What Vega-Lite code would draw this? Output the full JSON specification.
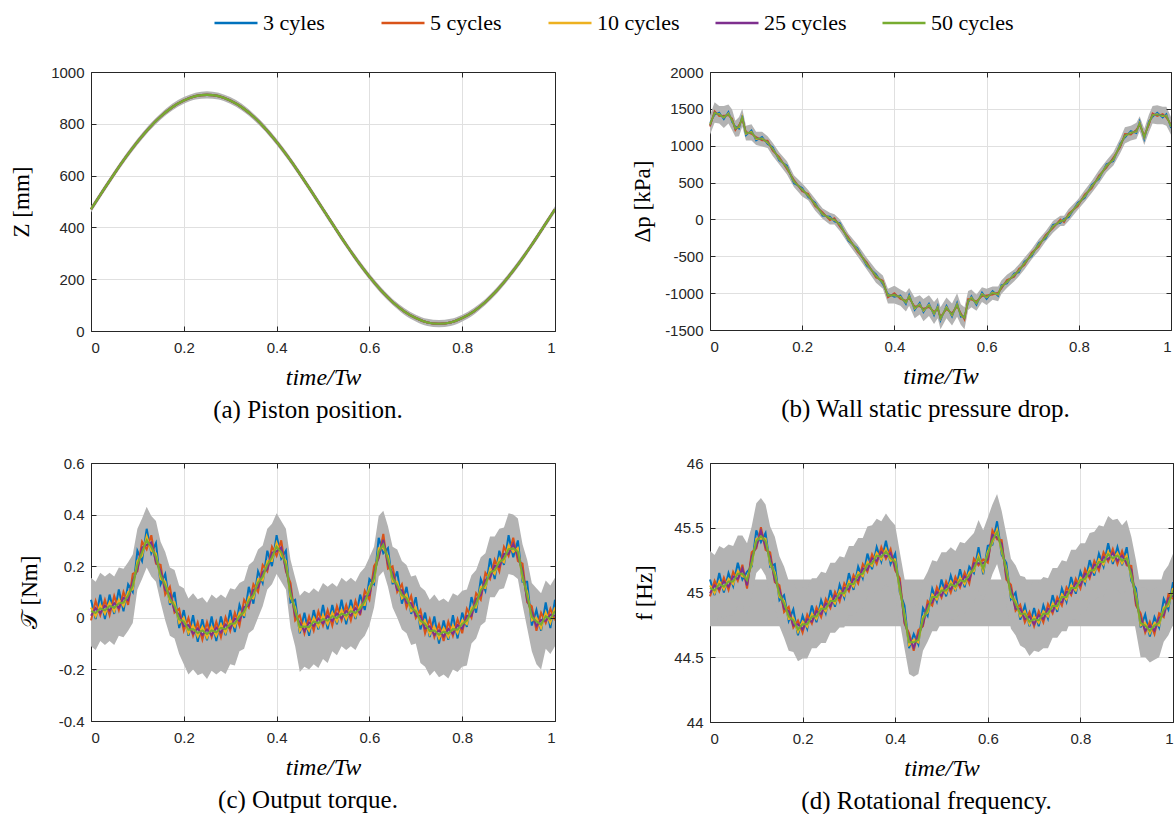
{
"$schema":"https://vega.github.io/schema/vega-lite/v6.json",
"background":"white",
"padding":{"left":10,"top":0,"right":0,"bottom":0},
"config":{"view":{"stroke":null},"font":"Liberation Serif",
"axis":{"labelFont":"Liberation Sans","labelFontSize":15,"labelColor":"#262626","domainColor":"#262626","tickColor":"#262626","tickSize":-5,"gridColor":"#e0e0e0","titleFont":"Liberation Serif","titleFontSize":23,"titleFontWeight":"normal","titleColor":"#000000"},
"axisX":{"labelPadding":14,"titlePadding":10,"titleFontSize":24},
"axisY":{"labelPadding":12,"titlePadding":17}},
"datasets":{
"A":[
{"t":0,"lo":458,"hi":482,"a":470,"b":470,"c":470,"d":470,"e":470},
{"t":0.025,"lo":527,"hi":551,"a":539,"b":539,"c":539,"d":539,"e":539},
{"t":0.05,"lo":595,"hi":619,"a":607,"b":607,"c":607,"d":607,"e":607},
{"t":0.075,"lo":659,"hi":683,"a":671,"b":671,"c":671,"d":671,"e":671},
{"t":0.1,"lo":718,"hi":742,"a":730,"b":730,"c":730,"d":730,"e":730},
{"t":0.125,"lo":771,"hi":795,"a":783,"b":783,"c":783,"d":783,"e":783},
{"t":0.15,"lo":816,"hi":840,"a":828,"b":828,"c":828,"d":828,"e":828},
{"t":0.175,"lo":851,"hi":877,"a":864,"b":864,"c":864,"d":864,"e":864},
{"t":0.2,"lo":877,"hi":903,"a":890,"b":890,"c":890,"d":890,"e":890},
{"t":0.225,"lo":894,"hi":920,"a":907,"b":907,"c":907,"d":907,"e":907},
{"t":0.25,"lo":898,"hi":926,"a":912,"b":912,"c":912,"d":912,"e":912},
{"t":0.275,"lo":894,"hi":920,"a":907,"b":907,"c":907,"d":907,"e":907},
{"t":0.3,"lo":877,"hi":903,"a":890,"b":890,"c":890,"d":890,"e":890},
{"t":0.325,"lo":851,"hi":877,"a":864,"b":864,"c":864,"d":864,"e":864},
{"t":0.35,"lo":816,"hi":840,"a":828,"b":828,"c":828,"d":828,"e":828},
{"t":0.375,"lo":771,"hi":795,"a":783,"b":783,"c":783,"d":783,"e":783},
{"t":0.4,"lo":718,"hi":742,"a":730,"b":730,"c":730,"d":730,"e":730},
{"t":0.425,"lo":659,"hi":683,"a":671,"b":671,"c":671,"d":671,"e":671},
{"t":0.45,"lo":595,"hi":619,"a":607,"b":607,"c":607,"d":607,"e":607},
{"t":0.475,"lo":527,"hi":551,"a":539,"b":539,"c":539,"d":539,"e":539},
{"t":0.5,"lo":458,"hi":482,"a":470,"b":470,"c":470,"d":470,"e":470},
{"t":0.525,"lo":389,"hi":413,"a":401,"b":401,"c":401,"d":401,"e":401},
{"t":0.55,"lo":321,"hi":345,"a":333,"b":333,"c":333,"d":333,"e":333},
{"t":0.575,"lo":257,"hi":281,"a":269,"b":269,"c":269,"d":269,"e":269},
{"t":0.6,"lo":198,"hi":222,"a":210,"b":210,"c":210,"d":210,"e":210},
{"t":0.625,"lo":145,"hi":169,"a":157,"b":157,"c":157,"d":157,"e":157},
{"t":0.65,"lo":100,"hi":124,"a":112,"b":112,"c":112,"d":112,"e":112},
{"t":0.675,"lo":63,"hi":89,"a":76,"b":76,"c":76,"d":76,"e":76},
{"t":0.7,"lo":37,"hi":63,"a":50,"b":50,"c":50,"d":50,"e":50},
{"t":0.725,"lo":19,"hi":47,"a":33,"b":33,"c":33,"d":33,"e":33},
{"t":0.75,"lo":14,"hi":42,"a":28,"b":28,"c":28,"d":28,"e":28},
{"t":0.775,"lo":19,"hi":47,"a":33,"b":33,"c":33,"d":33,"e":33},
{"t":0.8,"lo":37,"hi":63,"a":50,"b":50,"c":50,"d":50,"e":50},
{"t":0.825,"lo":63,"hi":89,"a":76,"b":76,"c":76,"d":76,"e":76},
{"t":0.85,"lo":100,"hi":124,"a":112,"b":112,"c":112,"d":112,"e":112},
{"t":0.875,"lo":145,"hi":169,"a":157,"b":157,"c":157,"d":157,"e":157},
{"t":0.9,"lo":198,"hi":222,"a":210,"b":210,"c":210,"d":210,"e":210},
{"t":0.925,"lo":257,"hi":281,"a":269,"b":269,"c":269,"d":269,"e":269},
{"t":0.95,"lo":321,"hi":345,"a":333,"b":333,"c":333,"d":333,"e":333},
{"t":0.975,"lo":389,"hi":413,"a":401,"b":401,"c":401,"d":401,"e":401},
{"t":1,"lo":458,"hi":482,"a":470,"b":470,"c":470,"d":470,"e":470}],
"B":[
{"t":0,"lo":1150,"hi":1410,"a":1310,"b":1260,"c":1290,"d":1275,"e":1280},
{"t":0.01,"lo":1310,"hi":1590,"a":1420,"b":1470,"c":1440,"d":1455,"e":1450},
{"t":0.02,"lo":1300,"hi":1540,"a":1450,"b":1400,"c":1430,"d":1415,"e":1420},
{"t":0.03,"lo":1240,"hi":1540,"a":1360,"b":1410,"c":1380,"d":1395,"e":1390},
{"t":0.04,"lo":1300,"hi":1560,"a":1460,"b":1410,"c":1440,"d":1425,"e":1430},
{"t":0.048,"lo":1210,"hi":1490,"a":1320,"b":1370,"c":1340,"d":1355,"e":1350},
{"t":0.055,"lo":1120,"hi":1340,"a":1260,"b":1210,"c":1240,"d":1225,"e":1230},
{"t":0.063,"lo":1130,"hi":1390,"a":1230,"b":1280,"c":1250,"d":1265,"e":1260},
{"t":0.07,"lo":1260,"hi":1500,"a":1410,"b":1360,"c":1390,"d":1375,"e":1380},
{"t":0.078,"lo":1070,"hi":1270,"a":1140,"b":1190,"c":1160,"d":1175,"e":1170},
{"t":0.09,"lo":1070,"hi":1290,"a":1210,"b":1160,"c":1190,"d":1175,"e":1180},
{"t":0.1,"lo":1010,"hi":1190,"a":1070,"b":1120,"c":1090,"d":1105,"e":1100},
{"t":0.113,"lo":990,"hi":1190,"a":1120,"b":1070,"c":1100,"d":1085,"e":1090},
{"t":0.125,"lo":970,"hi":1130,"a":1020,"b":1070,"c":1040,"d":1055,"e":1050},
{"t":0.136,"lo":860,"hi":1040,"a":980,"b":930,"c":960,"d":945,"e":950},
{"t":0.15,"lo":750,"hi":910,"a":800,"b":850,"c":820,"d":835,"e":830},
{"t":0.167,"lo":610,"hi":790,"a":730,"b":680,"c":710,"d":695,"e":700},
{"t":0.182,"lo":440,"hi":600,"a":490,"b":540,"c":510,"d":525,"e":520},
{"t":0.2,"lo":310,"hi":490,"a":430,"b":380,"c":410,"d":395,"e":400},
{"t":0.213,"lo":260,"hi":400,"a":300,"b":350,"c":320,"d":335,"e":330},
{"t":0.228,"lo":120,"hi":280,"a":230,"b":180,"c":210,"d":195,"e":200},
{"t":0.244,"lo":10,"hi":150,"a":50,"b":100,"c":70,"d":85,"e":80},
{"t":0.26,"lo":-70,"hi":90,"a":40,"b":-10,"c":20,"d":5,"e":10},
{"t":0.27,"lo":-70,"hi":70,"a":-30,"b":20,"c":-10,"d":5,"e":0},
{"t":0.282,"lo":-160,"hi":0,"a":-50,"b":-100,"c":-70,"d":-85,"e":-80},
{"t":0.3,"lo":-330,"hi":-190,"a":-290,"b":-240,"c":-270,"d":-255,"e":-260},
{"t":0.32,"lo":-500,"hi":-340,"a":-390,"b":-440,"c":-410,"d":-425,"e":-420},
{"t":0.34,"lo":-680,"hi":-520,"a":-630,"b":-580,"c":-610,"d":-595,"e":-600},
{"t":0.36,"lo":-860,"hi":-680,"a":-740,"b":-790,"c":-760,"d":-775,"e":-770},
{"t":0.375,"lo":-940,"hi":-760,"a":-880,"b":-830,"c":-860,"d":-845,"e":-850},
{"t":0.386,"lo":-1140,"hi":-940,"a":-1010,"b":-1060,"c":-1030,"d":-1045,"e":-1040},
{"t":0.4,"lo":-1140,"hi":-900,"a":-1050,"b":-1000,"c":-1030,"d":-1015,"e":-1020},
{"t":0.413,"lo":-1170,"hi":-950,"a":-1030,"b":-1080,"c":-1050,"d":-1065,"e":-1060},
{"t":0.425,"lo":-1250,"hi":-990,"a":-1150,"b":-1100,"c":-1130,"d":-1115,"e":-1120},
{"t":0.432,"lo":-1170,"hi":-930,"a":-1020,"b":-1070,"c":-1040,"d":-1055,"e":-1050},
{"t":0.444,"lo":-1340,"hi":-1060,"a":-1230,"b":-1180,"c":-1210,"d":-1195,"e":-1200},
{"t":0.455,"lo":-1290,"hi":-1030,"a":-1130,"b":-1180,"c":-1150,"d":-1165,"e":-1160},
{"t":0.463,"lo":-1380,"hi":-1080,"a":-1260,"b":-1210,"c":-1240,"d":-1225,"e":-1230},
{"t":0.475,"lo":-1310,"hi":-1030,"a":-1140,"b":-1190,"c":-1160,"d":-1175,"e":-1170},
{"t":0.486,"lo":-1420,"hi":-1120,"a":-1300,"b":-1250,"c":-1280,"d":-1265,"e":-1270},
{"t":0.494,"lo":-1340,"hi":-1060,"a":-1170,"b":-1220,"c":-1190,"d":-1205,"e":-1200},
{"t":0.5,"lo":-1490,"hi":-1190,"a":-1370,"b":-1320,"c":-1350,"d":-1335,"e":-1340},
{"t":0.513,"lo":-1340,"hi":-1060,"a":-1170,"b":-1220,"c":-1190,"d":-1205,"e":-1200},
{"t":0.525,"lo":-1440,"hi":-1140,"a":-1320,"b":-1270,"c":-1300,"d":-1285,"e":-1290},
{"t":0.536,"lo":-1320,"hi":-1000,"a":-1130,"b":-1180,"c":-1150,"d":-1165,"e":-1160},
{"t":0.544,"lo":-1430,"hi":-1150,"a":-1320,"b":-1270,"c":-1300,"d":-1285,"e":-1290},
{"t":0.552,"lo":-1490,"hi":-1190,"a":-1310,"b":-1360,"c":-1330,"d":-1345,"e":-1340},
{"t":0.56,"lo":-1230,"hi":-970,"a":-1130,"b":-1080,"c":-1110,"d":-1095,"e":-1100},
{"t":0.567,"lo":-1190,"hi":-950,"a":-1040,"b":-1090,"c":-1060,"d":-1075,"e":-1070},
{"t":0.578,"lo":-1240,"hi":-1020,"a":-1160,"b":-1110,"c":-1140,"d":-1125,"e":-1130},
{"t":0.59,"lo":-1120,"hi":-920,"a":-990,"b":-1040,"c":-1010,"d":-1025,"e":-1020},
{"t":0.6,"lo":-1160,"hi":-940,"a":-1080,"b":-1030,"c":-1060,"d":-1045,"e":-1050},
{"t":0.613,"lo":-1090,"hi":-910,"a":-970,"b":-1020,"c":-990,"d":-1005,"e":-1000},
{"t":0.625,"lo":-1110,"hi":-910,"a":-1040,"b":-990,"c":-1020,"d":-1005,"e":-1010},
{"t":0.632,"lo":-1010,"hi":-830,"a":-890,"b":-940,"c":-910,"d":-925,"e":-920},
{"t":0.644,"lo":-930,"hi":-750,"a":-870,"b":-820,"c":-850,"d":-835,"e":-840},
{"t":0.66,"lo":-840,"hi":-680,"a":-730,"b":-780,"c":-750,"d":-765,"e":-760},
{"t":0.67,"lo":-770,"hi":-610,"a":-720,"b":-670,"c":-700,"d":-685,"e":-690},
{"t":0.682,"lo":-680,"hi":-520,"a":-570,"b":-620,"c":-590,"d":-605,"e":-600},
{"t":0.698,"lo":-540,"hi":-400,"a":-500,"b":-450,"c":-480,"d":-465,"e":-470},
{"t":0.713,"lo":-430,"hi":-270,"a":-320,"b":-370,"c":-340,"d":-355,"e":-350},
{"t":0.728,"lo":-300,"hi":-160,"a":-260,"b":-210,"c":-240,"d":-225,"e":-230},
{"t":0.744,"lo":-180,"hi":-20,"a":-70,"b":-120,"c":-90,"d":-105,"e":-100},
{"t":0.76,"lo":-90,"hi":50,"a":-50,"b":0,"c":-30,"d":-15,"e":-20},
{"t":0.768,"lo":-90,"hi":50,"a":10,"b":-40,"c":-10,"d":-25,"e":-20},
{"t":0.778,"lo":-20,"hi":140,"a":30,"b":80,"c":50,"d":65,"e":60},
{"t":0.798,"lo":130,"hi":270,"a":230,"b":180,"c":210,"d":195,"e":200},
{"t":0.813,"lo":240,"hi":400,"a":290,"b":340,"c":310,"d":325,"e":320},
{"t":0.828,"lo":360,"hi":520,"a":470,"b":420,"c":450,"d":435,"e":440},
{"t":0.844,"lo":490,"hi":670,"a":550,"b":600,"c":570,"d":585,"e":580},
{"t":0.86,"lo":640,"hi":800,"a":750,"b":700,"c":730,"d":715,"e":720},
{"t":0.875,"lo":730,"hi":910,"a":790,"b":840,"c":810,"d":825,"e":820},
{"t":0.89,"lo":900,"hi":1100,"a":1030,"b":980,"c":1010,"d":995,"e":1000},
{"t":0.9,"lo":1030,"hi":1250,"a":1110,"b":1160,"c":1130,"d":1145,"e":1140},
{"t":0.913,"lo":1070,"hi":1270,"a":1200,"b":1150,"c":1180,"d":1165,"e":1170},
{"t":0.925,"lo":1090,"hi":1310,"a":1170,"b":1220,"c":1190,"d":1205,"e":1200},
{"t":0.932,"lo":1200,"hi":1400,"a":1330,"b":1280,"c":1310,"d":1295,"e":1300},
{"t":0.942,"lo":1010,"hi":1230,"a":1090,"b":1140,"c":1110,"d":1125,"e":1120},
{"t":0.952,"lo":1180,"hi":1420,"a":1330,"b":1280,"c":1310,"d":1295,"e":1300},
{"t":0.96,"lo":1300,"hi":1540,"a":1390,"b":1440,"c":1410,"d":1425,"e":1420},
{"t":0.97,"lo":1290,"hi":1550,"a":1450,"b":1400,"c":1430,"d":1415,"e":1420},
{"t":0.982,"lo":1290,"hi":1530,"a":1380,"b":1430,"c":1400,"d":1415,"e":1410},
{"t":0.99,"lo":1270,"hi":1530,"a":1430,"b":1380,"c":1410,"d":1395,"e":1400},
{"t":1,"lo":1150,"hi":1390,"a":1240,"b":1290,"c":1260,"d":1275,"e":1270}],
"C":[
{"t":0,"lo":-0.11,"hi":0.155,"a":0.07,"b":-0.01,"c":0.04,"d":0.008,"e":0.026},
{"t":0.01,"lo":-0.125,"hi":0.14,"a":-0.005,"b":0.065,"c":0.005,"d":0.037,"e":0.019},
{"t":0.02,"lo":-0.09,"hi":0.175,"a":0.09,"b":0.01,"c":0.05,"d":0.018,"e":0.036},
{"t":0.03,"lo":-0.105,"hi":0.16,"a":-0.005,"b":0.07,"c":0.015,"d":0.047,"e":0.029},
{"t":0.04,"lo":-0.09,"hi":0.175,"a":0.09,"b":0.01,"c":0.06,"d":0.028,"e":0.046},
{"t":0.05,"lo":-0.105,"hi":0.16,"a":0.015,"b":0.085,"c":0.025,"d":0.057,"e":0.039},
{"t":0.06,"lo":-0.07,"hi":0.195,"a":0.11,"b":0.03,"c":0.07,"d":0.038,"e":0.056},
{"t":0.07,"lo":-0.075,"hi":0.19,"a":0.025,"b":0.1,"c":0.045,"d":0.077,"e":0.059},
{"t":0.08,"lo":-0.05,"hi":0.215,"a":0.13,"b":0.05,"c":0.1,"d":0.068,"e":0.086},
{"t":0.09,"lo":-0.02,"hi":0.245,"a":0.1,"b":0.17,"c":0.11,"d":0.142,"e":0.124},
{"t":0.1,"lo":0.11,"hi":0.345,"a":0.26,"b":0.18,"c":0.22,"d":0.188,"e":0.206},
{"t":0.11,"lo":0.15,"hi":0.385,"a":0.22,"b":0.295,"c":0.24,"d":0.272,"e":0.254},
{"t":0.12,"lo":0.195,"hi":0.43,"a":0.345,"b":0.265,"c":0.315,"d":0.283,"e":0.301},
{"t":0.13,"lo":0.16,"hi":0.395,"a":0.25,"b":0.32,"c":0.26,"d":0.292,"e":0.274},
{"t":0.14,"lo":0.14,"hi":0.375,"a":0.29,"b":0.21,"c":0.25,"d":0.218,"e":0.236},
{"t":0.15,"lo":0.06,"hi":0.295,"a":0.13,"b":0.205,"c":0.15,"d":0.182,"e":0.164},
{"t":0.16,"lo":-0.01,"hi":0.255,"a":0.17,"b":0.09,"c":0.14,"d":0.108,"e":0.126},
{"t":0.17,"lo":-0.07,"hi":0.195,"a":0.05,"b":0.12,"c":0.06,"d":0.092,"e":0.074},
{"t":0.18,"lo":-0.08,"hi":0.185,"a":0.1,"b":0.02,"c":0.06,"d":0.028,"e":0.046},
{"t":0.19,"lo":-0.14,"hi":0.125,"a":-0.04,"b":0.035,"c":-0.02,"d":0.012,"e":-0.006},
{"t":0.2,"lo":-0.18,"hi":0.115,"a":0.03,"b":-0.05,"c":0,"d":-0.032,"e":-0.014},
{"t":0.21,"lo":-0.22,"hi":0.075,"a":-0.07,"b":0,"c":-0.06,"d":-0.028,"e":-0.046},
{"t":0.22,"lo":-0.2,"hi":0.095,"a":0.01,"b":-0.07,"c":-0.03,"d":-0.062,"e":-0.044},
{"t":0.23,"lo":-0.223,"hi":0.072,"a":-0.093,"b":-0.018,"c":-0.073,"d":-0.041,"e":-0.059},
{"t":0.24,"lo":-0.215,"hi":0.08,"a":-0.005,"b":-0.085,"c":-0.035,"d":-0.067,"e":-0.049},
{"t":0.25,"lo":-0.237,"hi":0.058,"a":-0.087,"b":-0.017,"c":-0.077,"d":-0.045,"e":-0.063},
{"t":0.26,"lo":-0.205,"hi":0.09,"a":0.005,"b":-0.075,"c":-0.035,"d":-0.067,"e":-0.049},
{"t":0.27,"lo":-0.22,"hi":0.075,"a":-0.09,"b":-0.015,"c":-0.07,"d":-0.038,"e":-0.056},
{"t":0.28,"lo":-0.205,"hi":0.09,"a":0.005,"b":-0.075,"c":-0.025,"d":-0.057,"e":-0.039},
{"t":0.29,"lo":-0.218,"hi":0.077,"a":-0.068,"b":0.002,"c":-0.058,"d":-0.026,"e":-0.044},
{"t":0.3,"lo":-0.18,"hi":0.115,"a":0.03,"b":-0.05,"c":-0.01,"d":-0.042,"e":-0.024},
{"t":0.31,"lo":-0.185,"hi":0.11,"a":-0.055,"b":0.02,"c":-0.035,"d":-0.003,"e":-0.021},
{"t":0.32,"lo":-0.13,"hi":0.135,"a":0.05,"b":-0.03,"c":0.02,"d":-0.012,"e":0.006},
{"t":0.33,"lo":-0.12,"hi":0.145,"a":0,"b":0.07,"c":0.01,"d":0.042,"e":0.024},
{"t":0.34,"lo":-0.06,"hi":0.205,"a":0.12,"b":0.04,"c":0.08,"d":0.048,"e":0.066},
{"t":0.35,"lo":-0.045,"hi":0.22,"a":0.055,"b":0.13,"c":0.075,"d":0.107,"e":0.089},
{"t":0.36,"lo":0,"hi":0.265,"a":0.18,"b":0.1,"c":0.15,"d":0.118,"e":0.136},
{"t":0.37,"lo":0.045,"hi":0.28,"a":0.135,"b":0.205,"c":0.145,"d":0.177,"e":0.159},
{"t":0.38,"lo":0.11,"hi":0.345,"a":0.26,"b":0.18,"c":0.22,"d":0.188,"e":0.206},
{"t":0.39,"lo":0.13,"hi":0.365,"a":0.2,"b":0.275,"c":0.22,"d":0.252,"e":0.234},
{"t":0.4,"lo":0.17,"hi":0.405,"a":0.32,"b":0.24,"c":0.29,"d":0.258,"e":0.276},
{"t":0.41,"lo":0.14,"hi":0.375,"a":0.23,"b":0.3,"c":0.24,"d":0.272,"e":0.254},
{"t":0.42,"lo":0.11,"hi":0.345,"a":0.26,"b":0.18,"c":0.22,"d":0.188,"e":0.206},
{"t":0.43,"lo":-0.04,"hi":0.225,"a":0.06,"b":0.135,"c":0.08,"d":0.112,"e":0.094},
{"t":0.44,"lo":-0.11,"hi":0.155,"a":0.07,"b":-0.01,"c":0.04,"d":0.008,"e":0.026},
{"t":0.45,"lo":-0.21,"hi":0.085,"a":-0.06,"b":0.01,"c":-0.05,"d":-0.018,"e":-0.036},
{"t":0.46,"lo":-0.19,"hi":0.105,"a":0.02,"b":-0.06,"c":-0.02,"d":-0.052,"e":-0.034},
{"t":0.47,"lo":-0.2,"hi":0.095,"a":-0.07,"b":0.005,"c":-0.05,"d":-0.018,"e":-0.036},
{"t":0.48,"lo":-0.18,"hi":0.115,"a":0.03,"b":-0.05,"c":0,"d":-0.032,"e":-0.014},
{"t":0.49,"lo":-0.195,"hi":0.1,"a":-0.045,"b":0.025,"c":-0.035,"d":-0.003,"e":-0.021},
{"t":0.5,"lo":-0.16,"hi":0.135,"a":0.05,"b":-0.03,"c":0.01,"d":-0.022,"e":-0.004},
{"t":0.51,"lo":-0.175,"hi":0.12,"a":-0.045,"b":0.03,"c":-0.025,"d":0.007,"e":-0.011},
{"t":0.52,"lo":-0.13,"hi":0.135,"a":0.05,"b":-0.03,"c":0.02,"d":-0.012,"e":0.006},
{"t":0.53,"lo":-0.145,"hi":0.12,"a":-0.025,"b":0.045,"c":-0.015,"d":0.017,"e":-0.001},
{"t":0.54,"lo":-0.11,"hi":0.155,"a":0.07,"b":-0.01,"c":0.03,"d":-0.002,"e":0.016},
{"t":0.55,"lo":-0.125,"hi":0.14,"a":-0.025,"b":0.05,"c":-0.005,"d":0.027,"e":0.009},
{"t":0.56,"lo":-0.11,"hi":0.155,"a":0.07,"b":-0.01,"c":0.04,"d":0.008,"e":0.026},
{"t":0.57,"lo":-0.125,"hi":0.14,"a":-0.005,"b":0.065,"c":0.005,"d":0.037,"e":0.019},
{"t":0.58,"lo":-0.09,"hi":0.175,"a":0.09,"b":0.01,"c":0.05,"d":0.018,"e":0.036},
{"t":0.59,"lo":-0.07,"hi":0.195,"a":0.03,"b":0.105,"c":0.05,"d":0.082,"e":0.064},
{"t":0.6,"lo":-0.03,"hi":0.235,"a":0.15,"b":0.07,"c":0.12,"d":0.088,"e":0.106},
{"t":0.61,"lo":0.04,"hi":0.275,"a":0.13,"b":0.2,"c":0.14,"d":0.172,"e":0.154},
{"t":0.62,"lo":0.16,"hi":0.395,"a":0.31,"b":0.23,"c":0.27,"d":0.238,"e":0.256},
{"t":0.63,"lo":0.18,"hi":0.415,"a":0.25,"b":0.325,"c":0.27,"d":0.302,"e":0.284},
{"t":0.64,"lo":0.12,"hi":0.355,"a":0.27,"b":0.19,"c":0.24,"d":0.208,"e":0.226},
{"t":0.65,"lo":0.04,"hi":0.275,"a":0.13,"b":0.2,"c":0.14,"d":0.172,"e":0.154},
{"t":0.66,"lo":0,"hi":0.265,"a":0.18,"b":0.1,"c":0.14,"d":0.108,"e":0.126},
{"t":0.67,"lo":-0.045,"hi":0.22,"a":0.055,"b":0.13,"c":0.075,"d":0.107,"e":0.089},
{"t":0.68,"lo":-0.06,"hi":0.205,"a":0.12,"b":0.04,"c":0.09,"d":0.058,"e":0.076},
{"t":0.69,"lo":-0.105,"hi":0.16,"a":0.015,"b":0.085,"c":0.025,"d":0.057,"e":0.039},
{"t":0.7,"lo":-0.1,"hi":0.165,"a":0.08,"b":0,"c":0.04,"d":0.008,"e":0.026},
{"t":0.71,"lo":-0.175,"hi":0.12,"a":-0.045,"b":0.03,"c":-0.025,"d":0.007,"e":-0.011},
{"t":0.72,"lo":-0.19,"hi":0.105,"a":0.02,"b":-0.06,"c":-0.01,"d":-0.042,"e":-0.024},
{"t":0.73,"lo":-0.225,"hi":0.07,"a":-0.075,"b":-0.005,"c":-0.065,"d":-0.033,"e":-0.051},
{"t":0.74,"lo":-0.205,"hi":0.09,"a":0.005,"b":-0.075,"c":-0.035,"d":-0.067,"e":-0.049},
{"t":0.75,"lo":-0.23,"hi":0.065,"a":-0.1,"b":-0.025,"c":-0.08,"d":-0.048,"e":-0.066},
{"t":0.76,"lo":-0.22,"hi":0.075,"a":-0.01,"b":-0.09,"c":-0.04,"d":-0.072,"e":-0.054},
{"t":0.77,"lo":-0.235,"hi":0.06,"a":-0.085,"b":-0.015,"c":-0.075,"d":-0.043,"e":-0.061},
{"t":0.78,"lo":-0.2,"hi":0.095,"a":0.01,"b":-0.07,"c":-0.03,"d":-0.062,"e":-0.044},
{"t":0.79,"lo":-0.21,"hi":0.085,"a":-0.08,"b":-0.005,"c":-0.06,"d":-0.028,"e":-0.046},
{"t":0.8,"lo":-0.19,"hi":0.105,"a":0.02,"b":-0.06,"c":-0.01,"d":-0.042,"e":-0.024},
{"t":0.81,"lo":-0.185,"hi":0.11,"a":-0.035,"b":0.035,"c":-0.025,"d":0.007,"e":-0.011},
{"t":0.82,"lo":-0.1,"hi":0.165,"a":0.08,"b":0,"c":0.04,"d":0.008,"e":0.026},
{"t":0.83,"lo":-0.08,"hi":0.185,"a":0.02,"b":0.095,"c":0.04,"d":0.072,"e":0.054},
{"t":0.84,"lo":-0.03,"hi":0.235,"a":0.15,"b":0.07,"c":0.12,"d":0.088,"e":0.106},
{"t":0.85,"lo":-0.015,"hi":0.25,"a":0.105,"b":0.175,"c":0.115,"d":0.147,"e":0.129},
{"t":0.86,"lo":0.08,"hi":0.315,"a":0.23,"b":0.15,"c":0.19,"d":0.158,"e":0.176},
{"t":0.87,"lo":0.08,"hi":0.315,"a":0.15,"b":0.225,"c":0.17,"d":0.202,"e":0.184},
{"t":0.88,"lo":0.11,"hi":0.345,"a":0.26,"b":0.18,"c":0.23,"d":0.198,"e":0.216},
{"t":0.89,"lo":0.115,"hi":0.35,"a":0.205,"b":0.275,"c":0.215,"d":0.247,"e":0.229},
{"t":0.9,"lo":0.17,"hi":0.405,"a":0.32,"b":0.24,"c":0.28,"d":0.248,"e":0.266},
{"t":0.91,"lo":0.165,"hi":0.4,"a":0.235,"b":0.31,"c":0.255,"d":0.287,"e":0.269},
{"t":0.92,"lo":0.15,"hi":0.385,"a":0.3,"b":0.22,"c":0.27,"d":0.238,"e":0.256},
{"t":0.93,"lo":0.05,"hi":0.285,"a":0.14,"b":0.21,"c":0.15,"d":0.182,"e":0.164},
{"t":0.94,"lo":-0.04,"hi":0.225,"a":0.14,"b":0.06,"c":0.1,"d":0.068,"e":0.086},
{"t":0.95,"lo":-0.13,"hi":0.135,"a":-0.03,"b":0.045,"c":-0.01,"d":0.022,"e":0.004},
{"t":0.96,"lo":-0.18,"hi":0.115,"a":0.03,"b":-0.05,"c":0,"d":-0.032,"e":-0.014},
{"t":0.97,"lo":-0.2,"hi":0.095,"a":-0.05,"b":0.02,"c":-0.04,"d":-0.008,"e":-0.026},
{"t":0.98,"lo":-0.12,"hi":0.145,"a":0.06,"b":-0.02,"c":0.02,"d":-0.012,"e":0.006},
{"t":0.99,"lo":-0.14,"hi":0.125,"a":-0.04,"b":0.035,"c":-0.02,"d":0.012,"e":-0.006},
{"t":1,"lo":-0.11,"hi":0.155,"a":0.07,"b":-0.01,"c":0.04,"d":0.008,"e":0.026}],
"D":[
{"t":0,"lo":44.77,"hi":45.32,"a":45.1,"b":44.97,"c":45.055,"d":44.995,"e":45.035},
{"t":0.01,"lo":44.75,"hi":45.29,"a":44.98,"b":45.09,"c":44.995,"d":45.055,"e":45.015},
{"t":0.02,"lo":44.82,"hi":45.36,"a":45.15,"b":45.01,"c":45.085,"d":45.025,"e":45.065},
{"t":0.03,"lo":44.8,"hi":45.34,"a":45,"b":45.115,"c":45.025,"d":45.085,"e":45.045},
{"t":0.04,"lo":44.82,"hi":45.37,"a":45.15,"b":45.02,"c":45.105,"d":45.045,"e":45.085},
{"t":0.05,"lo":44.82,"hi":45.36,"a":45.05,"b":45.16,"c":45.065,"d":45.125,"e":45.085},
{"t":0.06,"lo":44.9,"hi":45.44,"a":45.23,"b":45.09,"c":45.165,"d":45.105,"e":45.145},
{"t":0.07,"lo":44.9,"hi":45.44,"a":45.1,"b":45.215,"c":45.125,"d":45.185,"e":45.145},
{"t":0.08,"lo":44.83,"hi":45.38,"a":45.16,"b":45.03,"c":45.115,"d":45.055,"e":45.095},
{"t":0.09,"lo":44.97,"hi":45.51,"a":45.2,"b":45.31,"c":45.215,"d":45.275,"e":45.235},
{"t":0.1,"lo":45.15,"hi":45.69,"a":45.48,"b":45.34,"c":45.415,"d":45.355,"e":45.395},
{"t":0.11,"lo":45.19,"hi":45.73,"a":45.39,"b":45.505,"c":45.415,"d":45.475,"e":45.435},
{"t":0.12,"lo":45.13,"hi":45.68,"a":45.46,"b":45.33,"c":45.415,"d":45.355,"e":45.395},
{"t":0.13,"lo":44.97,"hi":45.51,"a":45.2,"b":45.31,"c":45.215,"d":45.275,"e":45.235},
{"t":0.14,"lo":44.89,"hi":45.43,"a":45.22,"b":45.08,"c":45.155,"d":45.095,"e":45.135},
{"t":0.15,"lo":44.74,"hi":45.28,"a":44.94,"b":45.055,"c":44.965,"d":45.025,"e":44.985},
{"t":0.16,"lo":44.65,"hi":45.2,"a":44.98,"b":44.85,"c":44.935,"d":44.875,"e":44.915},
{"t":0.17,"lo":44.55,"hi":45.09,"a":44.78,"b":44.89,"c":44.795,"d":44.855,"e":44.815},
{"t":0.18,"lo":44.54,"hi":45.08,"a":44.87,"b":44.73,"c":44.805,"d":44.745,"e":44.785},
{"t":0.19,"lo":44.47,"hi":45.01,"a":44.67,"b":44.785,"c":44.695,"d":44.755,"e":44.715},
{"t":0.2,"lo":44.49,"hi":45.04,"a":44.82,"b":44.69,"c":44.775,"d":44.715,"e":44.755},
{"t":0.21,"lo":44.49,"hi":45.03,"a":44.72,"b":44.83,"c":44.735,"d":44.795,"e":44.755},
{"t":0.22,"lo":44.57,"hi":45.11,"a":44.9,"b":44.76,"c":44.835,"d":44.775,"e":44.815},
{"t":0.23,"lo":44.57,"hi":45.11,"a":44.77,"b":44.885,"c":44.795,"d":44.855,"e":44.815},
{"t":0.24,"lo":44.61,"hi":45.16,"a":44.94,"b":44.81,"c":44.895,"d":44.835,"e":44.875},
{"t":0.25,"lo":44.61,"hi":45.15,"a":44.84,"b":44.95,"c":44.855,"d":44.915,"e":44.875},
{"t":0.26,"lo":44.69,"hi":45.23,"a":45.02,"b":44.88,"c":44.955,"d":44.895,"e":44.935},
{"t":0.27,"lo":44.69,"hi":45.23,"a":44.89,"b":45.005,"c":44.915,"d":44.975,"e":44.935},
{"t":0.28,"lo":44.73,"hi":45.28,"a":45.06,"b":44.93,"c":45.015,"d":44.955,"e":44.995},
{"t":0.29,"lo":44.73,"hi":45.27,"a":44.96,"b":45.07,"c":44.975,"d":45.035,"e":44.995},
{"t":0.3,"lo":44.82,"hi":45.36,"a":45.15,"b":45.01,"c":45.085,"d":45.025,"e":45.065},
{"t":0.31,"lo":44.82,"hi":45.36,"a":45.02,"b":45.135,"c":45.045,"d":45.105,"e":45.065},
{"t":0.32,"lo":44.87,"hi":45.42,"a":45.2,"b":45.07,"c":45.155,"d":45.095,"e":45.135},
{"t":0.33,"lo":44.88,"hi":45.42,"a":45.11,"b":45.22,"c":45.125,"d":45.185,"e":45.145},
{"t":0.34,"lo":44.97,"hi":45.51,"a":45.3,"b":45.16,"c":45.235,"d":45.175,"e":45.215},
{"t":0.35,"lo":44.98,"hi":45.52,"a":45.18,"b":45.295,"c":45.205,"d":45.265,"e":45.225},
{"t":0.36,"lo":45.02,"hi":45.57,"a":45.35,"b":45.22,"c":45.305,"d":45.245,"e":45.285},
{"t":0.37,"lo":45.01,"hi":45.55,"a":45.24,"b":45.35,"c":45.255,"d":45.315,"e":45.275},
{"t":0.38,"lo":45.07,"hi":45.61,"a":45.4,"b":45.26,"c":45.335,"d":45.275,"e":45.315},
{"t":0.39,"lo":45.02,"hi":45.56,"a":45.22,"b":45.335,"c":45.245,"d":45.305,"e":45.265},
{"t":0.4,"lo":44.97,"hi":45.52,"a":45.3,"b":45.17,"c":45.255,"d":45.195,"e":45.235},
{"t":0.41,"lo":44.77,"hi":45.31,"a":45,"b":45.11,"c":45.015,"d":45.075,"e":45.035},
{"t":0.42,"lo":44.57,"hi":45.11,"a":44.9,"b":44.76,"c":44.835,"d":44.775,"e":44.815},
{"t":0.43,"lo":44.37,"hi":44.91,"a":44.57,"b":44.685,"c":44.595,"d":44.655,"e":44.615},
{"t":0.44,"lo":44.35,"hi":44.9,"a":44.68,"b":44.55,"c":44.635,"d":44.575,"e":44.615},
{"t":0.45,"lo":44.37,"hi":44.91,"a":44.6,"b":44.71,"c":44.615,"d":44.675,"e":44.635},
{"t":0.46,"lo":44.55,"hi":45.09,"a":44.88,"b":44.74,"c":44.815,"d":44.755,"e":44.795},
{"t":0.47,"lo":44.62,"hi":45.16,"a":44.82,"b":44.935,"c":44.845,"d":44.905,"e":44.865},
{"t":0.48,"lo":44.7,"hi":45.25,"a":45.03,"b":44.9,"c":44.985,"d":44.925,"e":44.965},
{"t":0.49,"lo":44.7,"hi":45.24,"a":44.93,"b":45.04,"c":44.945,"d":45.005,"e":44.965},
{"t":0.5,"lo":44.77,"hi":45.31,"a":45.1,"b":44.96,"c":45.035,"d":44.975,"e":45.015},
{"t":0.51,"lo":44.77,"hi":45.31,"a":44.97,"b":45.085,"c":44.995,"d":45.055,"e":45.015},
{"t":0.52,"lo":44.8,"hi":45.35,"a":45.13,"b":45,"c":45.085,"d":45.025,"e":45.065},
{"t":0.53,"lo":44.78,"hi":45.32,"a":45.01,"b":45.12,"c":45.025,"d":45.085,"e":45.045},
{"t":0.54,"lo":44.85,"hi":45.39,"a":45.18,"b":45.04,"c":45.115,"d":45.055,"e":45.095},
{"t":0.55,"lo":44.84,"hi":45.38,"a":45.04,"b":45.155,"c":45.065,"d":45.125,"e":45.085},
{"t":0.56,"lo":44.87,"hi":45.42,"a":45.2,"b":45.07,"c":45.155,"d":45.095,"e":45.135},
{"t":0.57,"lo":44.92,"hi":45.46,"a":45.15,"b":45.26,"c":45.165,"d":45.225,"e":45.185},
{"t":0.58,"lo":45.02,"hi":45.56,"a":45.35,"b":45.21,"c":45.285,"d":45.225,"e":45.265},
{"t":0.59,"lo":44.94,"hi":45.48,"a":45.14,"b":45.255,"c":45.165,"d":45.225,"e":45.185},
{"t":0.6,"lo":45.03,"hi":45.58,"a":45.36,"b":45.23,"c":45.315,"d":45.255,"e":45.295},
{"t":0.61,"lo":45.14,"hi":45.68,"a":45.37,"b":45.48,"c":45.385,"d":45.445,"e":45.405},
{"t":0.62,"lo":45.22,"hi":45.76,"a":45.55,"b":45.41,"c":45.485,"d":45.425,"e":45.465},
{"t":0.63,"lo":45.09,"hi":45.63,"a":45.29,"b":45.405,"c":45.315,"d":45.375,"e":45.335},
{"t":0.64,"lo":44.9,"hi":45.45,"a":45.23,"b":45.1,"c":45.185,"d":45.125,"e":45.165},
{"t":0.65,"lo":44.72,"hi":45.26,"a":44.95,"b":45.06,"c":44.965,"d":45.025,"e":44.985},
{"t":0.66,"lo":44.67,"hi":45.21,"a":45,"b":44.86,"c":44.935,"d":44.875,"e":44.915},
{"t":0.67,"lo":44.59,"hi":45.13,"a":44.79,"b":44.905,"c":44.815,"d":44.875,"e":44.835},
{"t":0.68,"lo":44.57,"hi":45.12,"a":44.9,"b":44.77,"c":44.855,"d":44.795,"e":44.835},
{"t":0.69,"lo":44.51,"hi":45.05,"a":44.74,"b":44.85,"c":44.755,"d":44.815,"e":44.775},
{"t":0.7,"lo":44.55,"hi":45.09,"a":44.88,"b":44.74,"c":44.815,"d":44.755,"e":44.795},
{"t":0.71,"lo":44.54,"hi":45.08,"a":44.74,"b":44.855,"c":44.765,"d":44.825,"e":44.785},
{"t":0.72,"lo":44.57,"hi":45.12,"a":44.9,"b":44.77,"c":44.855,"d":44.795,"e":44.835},
{"t":0.73,"lo":44.57,"hi":45.11,"a":44.8,"b":44.91,"c":44.815,"d":44.875,"e":44.835},
{"t":0.74,"lo":44.65,"hi":45.19,"a":44.98,"b":44.84,"c":44.915,"d":44.855,"e":44.895},
{"t":0.75,"lo":44.65,"hi":45.19,"a":44.85,"b":44.965,"c":44.875,"d":44.935,"e":44.895},
{"t":0.76,"lo":44.7,"hi":45.25,"a":45.03,"b":44.9,"c":44.985,"d":44.925,"e":44.965},
{"t":0.77,"lo":44.7,"hi":45.24,"a":44.93,"b":45.04,"c":44.945,"d":45.005,"e":44.965},
{"t":0.78,"lo":44.79,"hi":45.33,"a":45.12,"b":44.98,"c":45.055,"d":44.995,"e":45.035},
{"t":0.79,"lo":44.79,"hi":45.33,"a":44.99,"b":45.105,"c":45.015,"d":45.075,"e":45.035},
{"t":0.8,"lo":44.83,"hi":45.38,"a":45.16,"b":45.03,"c":45.115,"d":45.055,"e":45.095},
{"t":0.81,"lo":44.84,"hi":45.38,"a":45.07,"b":45.18,"c":45.085,"d":45.145,"e":45.105},
{"t":0.82,"lo":44.92,"hi":45.46,"a":45.25,"b":45.11,"c":45.185,"d":45.125,"e":45.165},
{"t":0.83,"lo":44.93,"hi":45.47,"a":45.13,"b":45.245,"c":45.155,"d":45.215,"e":45.175},
{"t":0.84,"lo":44.97,"hi":45.52,"a":45.3,"b":45.17,"c":45.255,"d":45.195,"e":45.235},
{"t":0.85,"lo":44.97,"hi":45.51,"a":45.2,"b":45.31,"c":45.215,"d":45.275,"e":45.235},
{"t":0.86,"lo":45.05,"hi":45.59,"a":45.38,"b":45.24,"c":45.315,"d":45.255,"e":45.295},
{"t":0.87,"lo":45.02,"hi":45.56,"a":45.22,"b":45.335,"c":45.245,"d":45.305,"e":45.265},
{"t":0.88,"lo":45.02,"hi":45.57,"a":45.35,"b":45.22,"c":45.305,"d":45.245,"e":45.285},
{"t":0.89,"lo":44.98,"hi":45.52,"a":45.21,"b":45.32,"c":45.225,"d":45.285,"e":45.245},
{"t":0.9,"lo":45.02,"hi":45.56,"a":45.35,"b":45.21,"c":45.285,"d":45.225,"e":45.265},
{"t":0.91,"lo":44.89,"hi":45.43,"a":45.09,"b":45.205,"c":45.115,"d":45.175,"e":45.135},
{"t":0.92,"lo":44.7,"hi":45.25,"a":45.03,"b":44.9,"c":44.985,"d":44.925,"e":44.965},
{"t":0.93,"lo":44.5,"hi":45.04,"a":44.73,"b":44.84,"c":44.745,"d":44.805,"e":44.765},
{"t":0.94,"lo":44.5,"hi":45.04,"a":44.83,"b":44.69,"c":44.765,"d":44.705,"e":44.745},
{"t":0.95,"lo":44.46,"hi":45,"a":44.66,"b":44.775,"c":44.685,"d":44.745,"e":44.705},
{"t":0.96,"lo":44.48,"hi":45.03,"a":44.81,"b":44.68,"c":44.765,"d":44.705,"e":44.745},
{"t":0.97,"lo":44.5,"hi":45.04,"a":44.73,"b":44.84,"c":44.745,"d":44.805,"e":44.765},
{"t":0.98,"lo":44.62,"hi":45.16,"a":44.95,"b":44.81,"c":44.885,"d":44.825,"e":44.865},
{"t":0.99,"lo":44.67,"hi":45.21,"a":44.87,"b":44.985,"c":44.895,"d":44.955,"e":44.915},
{"t":1,"lo":44.75,"hi":45.3,"a":45.08,"b":44.95,"c":45.035,"d":44.975,"e":45.015}],
"R":[{"x0":0,"x1":1,"y0":44.74,"y1":45.1}]
},
"concat":[
{"width":464,"height":259,"data":{"name":"A"},
"title":{"text":"(a) Piston position.","orient":"bottom","anchor":"middle","frame":"group","font":"Liberation Serif","fontSize":25,"fontWeight":"normal","offset":9,"dx":-15,"color":"#000000"},
"layer":[
{"mark":{"type":"area","color":"#b3b3b3","interpolate":"monotone"},
"encoding":{"x":{"field":"t","type":"quantitative","scale":{"domain":[0,1],"nice":false,"zero":false},"axis":{"values":[0,0.2,0.4,0.6,0.8,1],"format":"~g","title":"time/Tw","titleFontStyle":"italic","grid":true}},
"y":{"field":"lo","type":"quantitative","scale":{"domain":[0,1000],"nice":false,"zero":false},"axis":{"values":[0,200,400,600,800,1000],"labelExpr":"datum.value < 0 ? '-' + format(-datum.value, '~g') : format(datum.value, '~g')","title":"Z [mm]","grid":true}},
"y2":{"field":"hi"}}},
{"transform":[{"fold":["a","b","c","d","e"],"as":["s","v"]}],
"mark":{"type":"line","strokeWidth":2.2,"interpolate":"monotone"},
"encoding":{"x":{"field":"t","type":"quantitative","axis":{"orient":"top","values":[0,0.2,0.4,0.6,0.8,1],"labels":false,"title":null,"grid":false,"zindex":1}},
"y":{"field":"v","type":"quantitative","axis":{"orient":"right","values":[0,200,400,600,800,1000],"labels":false,"title":null,"grid":false,"zindex":1}},
"color":{"field":"s","type":"nominal","scale":{"domain":["a","b","c","d","e"],"range":["#0072BD","#D95319","#EDB120","#7E2F8E","#77AC30"]},
"legend":{"orient":"none","legendX":122,"legendY":-72,"direction":"horizontal","columns":5,"title":null,"symbolType":"stroke","symbolSize":1850,"symbolStrokeWidth":2.5,"labelFont":"Liberation Serif","labelFontSize":22,"labelColor":"#000000","labelOffset":4,"columnPadding":30,"gridAlign":"all","labelExpr":"datum.label=='a'?'3 cyles':datum.label=='b'?'5 cycles':datum.label=='c'?'10 cycles':datum.label=='d'?'25 cycles':'50 cycles'"}}}}
],
"resolve":{"axis":{"x":"independent","y":"independent"}}},
{"width":461,"height":258,"data":{"name":"B"},
"title":{"text":"(b) Wall static pressure drop.","orient":"bottom","anchor":"middle","frame":"group","font":"Liberation Serif","fontSize":25,"fontWeight":"normal","offset":9,"dx":-15,"color":"#000000"},
"layer":[
{"mark":{"type":"area","color":"#b3b3b3"},
"encoding":{"x":{"field":"t","type":"quantitative","scale":{"domain":[0,1],"nice":false,"zero":false},"axis":{"values":[0,0.2,0.4,0.6,0.8,1],"format":"~g","title":"time/Tw","titleFontStyle":"italic","grid":true}},
"y":{"field":"lo","type":"quantitative","scale":{"domain":[-1500,2000],"nice":false,"zero":false},"axis":{"values":[-1500,-1000,-500,0,500,1000,1500,2000],"labelExpr":"datum.value < 0 ? '-' + format(-datum.value, '~g') : format(datum.value, '~g')","title":"Δp [kPa]","titlePadding":10,"grid":true}},
"y2":{"field":"hi"}}},
{"transform":[{"fold":["a","b","c","d","e"],"as":["s","v"]}],
"mark":{"type":"line","strokeWidth":1.6},
"encoding":{"x":{"field":"t","type":"quantitative","axis":{"orient":"top","values":[0,0.2,0.4,0.6,0.8,1],"labels":false,"title":null,"grid":false,"zindex":1}},
"y":{"field":"v","type":"quantitative","axis":{"orient":"right","values":[-1500,-1000,-500,0,500,1000,1500,2000],"labels":false,"title":null,"grid":false,"zindex":1}},
"color":{"field":"s","type":"nominal","scale":{"domain":["a","b","c","d","e"],"range":["#0072BD","#D95319","#EDB120","#7E2F8E","#77AC30"]},
"legend":{"orient":"none","legendX":122,"legendY":-72,"direction":"horizontal","columns":5,"title":null,"symbolType":"stroke","symbolSize":1850,"symbolStrokeWidth":2.5,"labelFont":"Liberation Serif","labelFontSize":22,"labelColor":"#000000","labelOffset":4,"columnPadding":30,"gridAlign":"all","labelExpr":"datum.label=='a'?'3 cyles':datum.label=='b'?'5 cycles':datum.label=='c'?'10 cycles':datum.label=='d'?'25 cycles':'50 cycles'"}}}}
],
"resolve":{"axis":{"x":"independent","y":"independent"}}},
{"width":464,"height":258,"data":{"name":"C"},
"title":{"text":"(c) Output torque.","orient":"bottom","anchor":"middle","frame":"group","font":"Liberation Serif","fontSize":25,"fontWeight":"normal","offset":9,"dx":-15,"color":"#000000"},
"layer":[
{"mark":{"type":"area","color":"#b3b3b3"},
"encoding":{"x":{"field":"t","type":"quantitative","scale":{"domain":[0,1],"nice":false,"zero":false},"axis":{"values":[0,0.2,0.4,0.6,0.8,1],"format":"~g","title":"time/Tw","titleFontStyle":"italic","grid":true}},
"y":{"field":"lo","type":"quantitative","scale":{"domain":[-0.4,0.6],"nice":false,"zero":false},"axis":{"values":[-0.4,-0.2,0,0.2,0.4,0.6],"labelExpr":"datum.value < 0 ? '-' + format(-datum.value, '~g') : format(datum.value, '~g')","title":"𝒯 [Nm]","grid":true}},
"y2":{"field":"hi"}}},
{"transform":[{"fold":["a","b","c","d","e"],"as":["s","v"]}],
"mark":{"type":"line","strokeWidth":2},
"encoding":{"x":{"field":"t","type":"quantitative","axis":{"orient":"top","values":[0,0.2,0.4,0.6,0.8,1],"labels":false,"title":null,"grid":false,"zindex":1}},
"y":{"field":"v","type":"quantitative","axis":{"orient":"right","values":[-0.4,-0.2,0,0.2,0.4,0.6],"labels":false,"title":null,"grid":false,"zindex":1}},
"color":{"field":"s","type":"nominal","scale":{"domain":["a","b","c","d","e"],"range":["#0072BD","#D95319","#EDB120","#7E2F8E","#77AC30"]},
"legend":{"orient":"none","legendX":122,"legendY":-72,"direction":"horizontal","columns":5,"title":null,"symbolType":"stroke","symbolSize":1850,"symbolStrokeWidth":2.5,"labelFont":"Liberation Serif","labelFontSize":22,"labelColor":"#000000","labelOffset":4,"columnPadding":30,"gridAlign":"all","labelExpr":"datum.label=='a'?'3 cyles':datum.label=='b'?'5 cycles':datum.label=='c'?'10 cycles':datum.label=='d'?'25 cycles':'50 cycles'"}}}}
],
"resolve":{"axis":{"x":"independent","y":"independent"}}},
{"width":463,"height":259,"data":{"name":"D"},
"title":{"text":"(d) Rotational frequency.","orient":"bottom","anchor":"middle","frame":"group","font":"Liberation Serif","fontSize":25,"fontWeight":"normal","offset":9,"dx":-15,"color":"#000000"},
"layer":[
{"data":{"name":"R"},"mark":{"type":"rect","color":"#b3b3b3"},
"encoding":{"x":{"field":"x0","type":"quantitative","axis":null},"x2":{"field":"x1"},"y":{"field":"y0","type":"quantitative","axis":null},"y2":{"field":"y1"}}},
{"mark":{"type":"area","color":"#b3b3b3"},
"encoding":{"x":{"field":"t","type":"quantitative","scale":{"domain":[0,1],"nice":false,"zero":false},"axis":{"values":[0,0.2,0.4,0.6,0.8,1],"format":"~g","title":"time/Tw","titleFontStyle":"italic","grid":true}},
"y":{"field":"lo","type":"quantitative","scale":{"domain":[44,46],"nice":false,"zero":false},"axis":{"values":[44,44.5,45,45.5,46],"labelExpr":"datum.value < 0 ? '-' + format(-datum.value, '~g') : format(datum.value, '~g')","title":"f [Hz]","grid":true}},
"y2":{"field":"hi"}}},
{"transform":[{"fold":["a","b","c","d","e"],"as":["s","v"]}],
"mark":{"type":"line","strokeWidth":2},
"encoding":{"x":{"field":"t","type":"quantitative","axis":{"orient":"top","values":[0,0.2,0.4,0.6,0.8,1],"labels":false,"title":null,"grid":false,"zindex":1}},
"y":{"field":"v","type":"quantitative","axis":{"orient":"right","values":[44,44.5,45,45.5,46],"labels":false,"title":null,"grid":false,"zindex":1}},
"color":{"field":"s","type":"nominal","scale":{"domain":["a","b","c","d","e"],"range":["#0072BD","#D95319","#EDB120","#7E2F8E","#77AC30"]},
"legend":{"orient":"none","legendX":122,"legendY":-72,"direction":"horizontal","columns":5,"title":null,"symbolType":"stroke","symbolSize":1850,"symbolStrokeWidth":2.5,"labelFont":"Liberation Serif","labelFontSize":22,"labelColor":"#000000","labelOffset":4,"columnPadding":30,"gridAlign":"all","labelExpr":"datum.label=='a'?'3 cyles':datum.label=='b'?'5 cycles':datum.label=='c'?'10 cycles':datum.label=='d'?'25 cycles':'50 cycles'"}}}}
],
"resolve":{"axis":{"x":"independent","y":"independent"}}}
],
"columns":2,
"spacing":{"row":33,"column":71},
"resolve":{"scale":{"color":"shared"},"legend":{"color":"shared"}}
}
